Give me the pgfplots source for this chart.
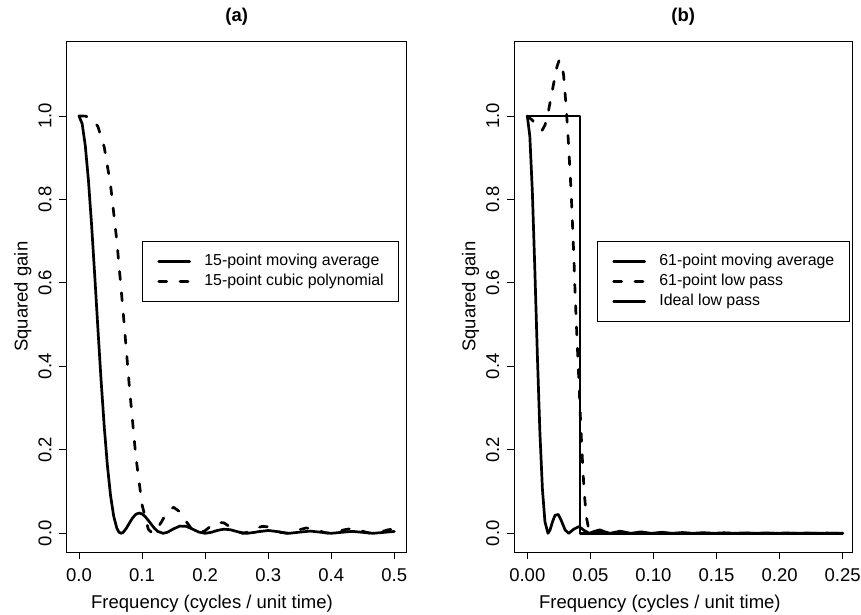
\documentclass[border=0pt]{standalone}
\usepackage{fontspec}
\setmainfont{Liberation Sans}
\usepackage{pgfplots}
\pgfplotsset{compat=1.18}

\pgfplotsset{
  rstyle/.style={
    scale only axis, height=510.7pt,
    ymin=-0.0448, ymax=1.179,
    axis line style={line width=1pt},
    tick align=outside, major tick length=7pt,
    xtick pos=bottom, ytick pos=left,
    every tick/.style={black, line width=0.9pt},
    ytick={0,0.2,0.4,0.6,0.8,1},
    tick label style={font=\fontsize{18.5}{22}\selectfont},
    xticklabel style={anchor=north, inner sep=0pt},
    yticklabel style={rotate=90, anchor=south, inner sep=0pt},
    xticklabel shift=9.3pt, yticklabel shift=7.7pt,
    /pgf/number format/fixed, /pgf/number format/fixed zerofill,
    /pgf/number format/precision=1,
    /pgf/number format/assume math mode=true,
    label style={font=\fontsize{18.5}{22}\selectfont},
    title style={font=\bfseries\fontsize{18.5}{22}\selectfont, anchor=base, at={(axis description cs:0.5,1.027)}},
    legend cell align=left,
    legend image code/.code={\draw[##1] (0pt,0pt) -- (31pt,0pt);},
    legend style={anchor=north west, draw=black, line width=0.8pt,
      font=\fontsize{15.9}{19}\selectfont, inner xsep=15pt, inner ysep=10pt,
      column sep=13.3pt, row sep=0pt,
      nodes={inner xsep=0pt, inner ysep=2.5pt, text height=11.7pt, text depth=3.3pt}},
  },
  sline/.style={black, line width=2.7pt, line cap=round, line join=round},
  dline/.style={black, line width=2.7pt, line cap=round, line join=round, dash pattern=on 8pt off 13.3pt},
}

\begin{document}
\begin{tikzpicture}[x=1pt,y=1pt]
\useasboundingbox (0,0) rectangle (861,614);

\begin{axis}[rstyle, at={(66.4pt,62pt)}, anchor=south west, width=340.5pt,
  xmin=-0.02, xmax=0.52, xtick={0,0.1,0.2,0.3,0.4,0.5},
  title={(a)}, xlabel={Frequency (cycles / unit time)}, ylabel={Squared gain},
  xlabel style={anchor=base, at={(axis description cs:0.4276,-0.110)}},
  ylabel style={anchor=base, rotate=0, at={(axis description cs:-0.1142,0.5)}},
  legend style={at={(rel axis cs:0.222,0.6088)}}]
\addplot[sline] coordinates {
(0,1) (0.005,0.9815) (0.01,0.9284) (0.015,0.8448) (0.02,0.7378) (0.025,0.6163)
(0.03,0.4896) (0.035,0.3668) (0.04,0.2559) (0.045,0.1628) (0.05,0.0908)
(0.055,0.04105) (0.06,0.01209) (0.0633,0.00284) (0.0667,0) (0.07,0.00229)
(0.075,0.01194) (0.08,0.02483) (0.085,0.03684) (0.09,0.04533) (0.095,0.0486)
(0.1,0.04654) (0.105,0.04005) (0.11,0.03075) (0.115,0.02087) (0.12,0.01133)
(0.125,0.00444) (0.1333,0) (0.14,0.00234) (0.15,0.01078) (0.16,0.01732)
(0.17,0.01673) (0.18,0.01013) (0.19,0.0029) (0.2,0) (0.21,0.00244) (0.22,0.00716)
(0.23,0.00991) (0.24,0.00858) (0.25,0.00444) (0.26,0.0008) (0.2667,0)
(0.28,0.00259) (0.2833,0.00368) (0.3,0.00679) (0.3167,0.00368) (0.32,0.00215)
(0.3333,0) (0.35,0.0028) (0.3667,0.00533) (0.3833,0.00255) (0.4,0)
(0.4167,0.00238) (0.4333,0.00465) (0.45,0.00228) (0.4667,0) (0.4833,0.00223)
(0.5,0.00444)
};
\addlegendentry{15-point moving average}
\addplot[dline] coordinates {
(0,1) (0.01,0.9997) (0.02,0.9948) (0.03,0.9748) (0.04,0.9256) (0.05,0.8353)
(0.06,0.7003) (0.07,0.5304) (0.08,0.3487) (0.09,0.1858) (0.1,0.0684)
(0.11,0.00936) (0.1167,0) (0.12,0.00232) (0.13,0.02544) (0.14,0.05194)
(0.15,0.06223) (0.16,0.05139) (0.17,0.0283) (0.18,0.00761) (0.19,0)
(0.2,0.00632) (0.21,0.01865) (0.22,0.02671) (0.23,0.0248) (0.24,0.01493)
(0.25,0.00436) (0.26,0) (0.27,0.00364) (0.28,0.0113) (0.29,0.01662)
(0.3,0.01561) (0.31,0.00929) (0.32,0.00249) (0.33,0) (0.34,0.00314)
(0.35,0.00892) (0.36,0.01264) (0.37,0.01147) (0.38,0.00643) (0.39,0.00142)
(0.3976,0) (0.41,0.0033) (0.42,0.00821) (0.43,0.01094) (0.44,0.00939)
(0.45,0.00481) (0.46,0.00077) (0.466,0) (0.47,0.00037) (0.48,0.00384)
(0.49,0.0084) (0.5,0.01046)
};
\addlegendentry{15-point cubic polynomial}
\end{axis}

\begin{axis}[rstyle, at={(514.3pt,62pt)}, anchor=south west, width=337.7pt,
  xmin=-0.0103, xmax=0.2574, xtick={0,0.05,0.1,0.15,0.2,0.25},
  xticklabel style={/pgf/number format/precision=2},
  title={(b)}, xlabel={Frequency (cycles / unit time)}, ylabel={Squared gain},
  xlabel style={anchor=base, at={(axis description cs:0.431,-0.110)}},
  ylabel style={anchor=base, rotate=0, at={(axis description cs:-0.1152,0.5)}},
  legend style={at={(rel axis cs:0.2447,0.6082)}}]
\addplot[sline] coordinates {
(0,1) (0.002,0.9519) (0.004,0.8190) (0.006,0.6301) (0.008,0.4249) (0.010,0.2411)
(0.012,0.1051) (0.014,0.0273) (0.0164,0) (0.018,0.00779) (0.020,0.0277)
(0.022,0.04327) (0.0246,0.04509) (0.027,0.0301) (0.030,0.00786) (0.0328,0)
(0.0369,0.0101) (0.041,0.0163) (0.045,0.00697) (0.0492,0) (0.053,0.00437)
(0.0574,0.00836) (0.0615,0.0036) (0.0656,0) (0.0697,0.0026) (0.0738,0.0051)
(0.0779,0.0025) (0.0820,0) (0.0861,0.0017) (0.0902,0.00344) (0.0943,0.0017)
(0.0984,0) (0.1066,0.00249) (0.1148,0) (0.1230,0.00189) (0.1311,0)
(0.1393,0.0015) (0.1475,0) (0.1557,0.00122) (0.1639,0) (0.1721,0.00101)
(0.1803,0) (0.1885,0.00086) (0.1967,0) (0.2049,0.00075) (0.2131,0)
(0.2213,0.00065) (0.2295,0) (0.2377,0.00058) (0.2459,0) (0.25,0.00054)
};
\addlegendentry{61-point moving average}
\addplot[dline] coordinates {
(0,1) (0.004,0.99) (0.008,0.972) (0.0116,0.965) (0.014,0.978) (0.0169,1.014)
(0.0209,1.078) (0.0235,1.118) (0.0253,1.134) (0.027,1.127) (0.0287,1.10)
(0.0306,1.03) (0.0322,0.958) (0.0335,0.887) (0.0348,0.815) (0.0359,0.735)
(0.0370,0.655) (0.0380,0.565) (0.0397,0.447) (0.041,0.359) (0.0423,0.263)
(0.0437,0.175) (0.045,0.103) (0.0468,0.039) (0.0489,0.007) (0.0505,0)
(0.054,0.003) (0.058,0.006) (0.062,0.002) (0.066,0) (0.072,0.002) (0.078,0)
(0.25,0)
};
\addlegendentry{61-point low pass}
\addplot[sline] coordinates {
(0,1) (0.041667,1) (0.041667,0) (0.25,0)
};
\addlegendentry{Ideal low pass}
\end{axis}
\end{tikzpicture}
\end{document}
